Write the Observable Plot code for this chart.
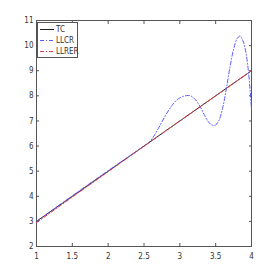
<!DOCTYPE html>
<html><head><meta charset="utf-8">
<script src="https://cdn.jsdelivr.net/npm/d3@7"></script>
<script src="https://cdn.jsdelivr.net/npm/@observablehq/plot@0.6"></script>
<style>
body{margin:0;background:#fff;}
#wrap{position:relative;width:277px;height:277px;}
#legend{position:absolute;left:37px;top:22px;}
</style></head>
<body><div id="wrap"></div>
<script>
const seriesNames = ["TC", "LLCR", "LLRER"];
const xTicks = [1, 1.5, 2, 2.5, 3, 3.5, 4];
const yTicks = [2, 3, 4, 5, 6, 7, 8, 9, 10, 11];
const tcX = [1, 4];
const tcY = [3, 9];
const llcrX = [1, 1.5, 2, 2.5, 2.55, 2.6, 2.65, 2.7, 2.75, 2.8, 2.85, 2.9, 2.95, 3.0, 3.05, 3.1, 3.15, 3.2, 3.25, 3.3, 3.35, 3.4, 3.45, 3.5, 3.55, 3.6, 3.65, 3.7, 3.75, 3.8, 3.84, 3.88, 3.92, 3.96, 4.0];
const llcrY = [3.0, 4.02, 5.02, 6.0, 6.1, 6.25, 6.45, 6.7, 6.96, 7.22, 7.45, 7.65, 7.81, 7.92, 7.98, 8.01, 8.0, 7.9, 7.72, 7.48, 7.2, 6.96, 6.83, 6.84, 7.05, 7.55, 8.3, 9.15, 9.85, 10.28, 10.38, 10.2, 9.75, 8.9, 7.44];
const llrerX = [1, 1.25, 1.5, 1.75, 2, 2.5, 3, 3.5, 4];
const llrerY = [2.95, 3.46, 3.97, 4.47, 4.98, 5.99, 7.0, 8.0, 9.0];

const colors = {TC: "#222222", LLCR: "#5a5aff", LLRER: "#e0424a"};
const dashes = {TC: null, LLCR: "4,2,1,2", LLRER: "4,2,1,2"};

const tc = tcX.map((x, i) => ({x, y: tcY[i]}));
const llcr = llcrX.map((x, i) => ({x, y: llcrY[i]}));
const llrer = llrerX.map((x, i) => ({x, y: llrerY[i]}));

const font = "'Liberation Sans Narrow', 'DejaVu Sans Condensed', Arial, sans-serif";
const axisColor = "#555";

const chart = Plot.plot({
  width: 277, height: 277,
  marginLeft: 36, marginRight: 26, marginTop: 20, marginBottom: 31,
  style: {fontFamily: font, fontSize: "8px", color: "#333", background: "#fff"},
  x: {domain: [1, 4]},
  y: {domain: [2, 11]},
  marks: [
    Plot.frame({stroke: axisColor, strokeWidth: 1}),
    Plot.axisX(xTicks, {anchor: "bottom", tickSize: -3, tickPadding: 10, label: null, stroke: axisColor, tickFormat: d => String(d)}),
    Plot.axisX(xTicks, {anchor: "top", tickSize: -3, label: null, stroke: axisColor, tickFormat: () => ""}),
    Plot.axisY(yTicks, {anchor: "left", tickSize: -3, tickPadding: 6, label: null, stroke: axisColor, tickFormat: d => String(d)}),
    Plot.axisY(yTicks, {anchor: "right", tickSize: -3, label: null, stroke: axisColor, tickFormat: () => ""}),
    Plot.line(tc, {x: "x", y: "y", stroke: colors.TC, strokeWidth: 1}),
    Plot.line(llcr, {x: "x", y: "y", stroke: colors.LLCR, strokeWidth: 1, strokeDasharray: dashes.LLCR, curve: "catmull-rom"}),
    Plot.line(llrer, {x: "x", y: "y", stroke: colors.LLRER, strokeWidth: 1, strokeDasharray: dashes.LLRER})
  ]
});
const wrap = document.getElementById("wrap");
wrap.appendChild(chart);

// legend overlay
const lg = d3.select(wrap).append("svg").attr("id", "legend").attr("width", 42).attr("height", 37);
lg.append("rect").attr("x", 0.5).attr("y", 0.5).attr("width", 40).attr("height", 35).attr("fill", "#fff").attr("stroke", axisColor);
seriesNames.forEach((n, i) => {
  const y = 7.5 + i * 11;
  lg.append("line").attr("x1", 3).attr("x2", 17).attr("y1", y).attr("y2", y)
    .attr("stroke", colors[n]).attr("stroke-dasharray", dashes[n]);
  lg.append("text").attr("x", 19).attr("y", y).attr("dy", "0.35em")
    .attr("font-family", font).attr("font-size", "8px").attr("fill", "#333").text(n);
});
</script></body></html>
